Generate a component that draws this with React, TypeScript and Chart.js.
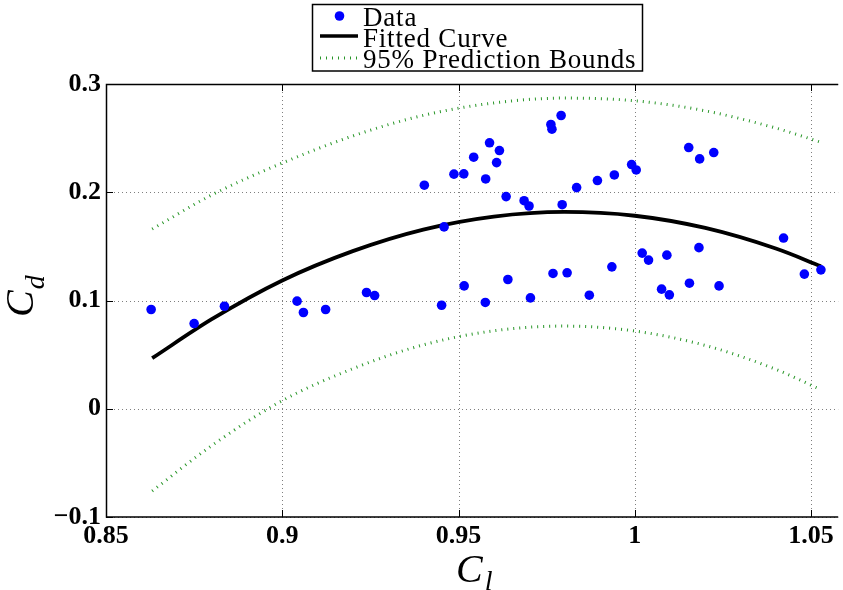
import React, { useEffect, useRef } from 'react';
import { Chart, registerables } from 'chart.js';

Chart.register(...registerables);

// ---------- data ----------
const dataX = [
  0.8628, 0.875, 0.8836, 0.9042, 0.906, 0.9123, 0.9239, 0.9262, 0.9403, 0.9452,
  0.9459, 0.9487, 0.9515, 0.9516, 0.9543, 0.9576, 0.9577, 0.9588, 0.9608, 0.9616,
  0.9635, 0.964, 0.9686, 0.97, 0.9704, 0.9762, 0.9765, 0.9768, 0.9791, 0.9794,
  0.9808, 0.9835, 0.9871, 0.9894, 0.9935, 0.9942, 0.9991, 1.0004, 1.0021, 1.0039,
  1.0076, 1.0091, 1.0098, 1.0153, 1.0155, 1.0182, 1.0184, 1.0224, 1.0239, 1.0422,
  1.0481, 1.0528,
];
const dataY = [
  0.0917, 0.0787, 0.0947, 0.0994, 0.0889, 0.0917, 0.1074, 0.1046, 0.2065, 0.0956,
  0.168, 0.2167, 0.217, 0.1135, 0.2324, 0.0982, 0.2123, 0.2457, 0.2274, 0.2385,
  0.196, 0.1194, 0.1922, 0.1873, 0.1024, 0.2626, 0.2583, 0.125, 0.2709, 0.1885,
  0.1256, 0.2043, 0.1049, 0.2108, 0.1311, 0.216, 0.2256, 0.2206, 0.1438, 0.1373,
  0.1105, 0.1419, 0.1052, 0.2413, 0.116, 0.1488, 0.2308, 0.2367, 0.1135, 0.1577,
  0.1244, 0.1283,
];
const curveX = [0.8631, 0.88, 0.9, 0.92, 0.94, 0.96, 0.98, 1.0, 1.02, 1.04, 1.0528];
const fitY = [0.0467, 0.0827, 0.1185, 0.1456, 0.1655, 0.1775, 0.1818, 0.1783, 0.167, 0.148, 0.1317];
const upperY = [0.166, 0.1975, 0.227, 0.252, 0.271, 0.2825, 0.287, 0.2845, 0.2752, 0.2593, 0.2462];
const lowerY = [-0.076, -0.034, 0.0075, 0.037, 0.059, 0.072, 0.0764, 0.0718, 0.0585, 0.0364, 0.0176];

const xTicks = [0.85, 0.9, 0.95, 1, 1.05];
const xTickLabels = ['0.85', '0.9', '0.95', '1', '1.05'];
const yTicks = [-0.1, 0, 0.1, 0.2, 0.3];
const yTickLabels = ['\u22120.1', '0', '0.1', '0.2', '0.3'];
const legendLabels = ['Data', 'Fitted Curve', '95% Prediction Bounds'];
const xTitle = ['C', 'l'];
const yTitle = ['C', 'd'];

const X_MIN = 0.85;
const X_MAX = 1.0577;
const Y_MIN = -0.1;
const Y_MAX = 0.3;

const BLUE = 'rgb(0,0,255)';
const GREEN = 'rgb(40,150,40)';
const SERIF = '"Liberation Serif", "Times New Roman", serif';

const pts = (xs: number[], ys: number[]) => xs.map((x, i) => ({ x, y: ys[i] }));

const labelFor = (ticks: number[], labels: string[]) => (value: number | string) => {
  const v = Number(value);
  const i = ticks.findIndex((t) => Math.abs(t - v) < 1e-9);
  return i >= 0 ? labels[i] : '';
};

const gridPlugin = {
  id: 'matlabGrid',
  beforeDatasetsDraw(chart: any) {
    const { ctx, chartArea: a, scales } = chart;
    const x = scales.x;
    const y = scales.y;
    ctx.save();
    ctx.strokeStyle = 'rgba(0,0,0,0.5)';
    ctx.lineWidth = 1;
    ctx.setLineDash([1, 3]);
    xTicks.forEach((v) => {
      const px = Math.round(x.getPixelForValue(v)) + 0.5;
      ctx.beginPath();
      ctx.moveTo(px, a.top);
      ctx.lineTo(px, a.bottom);
      ctx.stroke();
    });
    yTicks.forEach((v) => {
      const py = Math.round(y.getPixelForValue(v)) + 0.5;
      ctx.beginPath();
      ctx.moveTo(a.left, py);
      ctx.lineTo(a.right, py);
      ctx.stroke();
    });
    ctx.restore();
  },
  afterDatasetsDraw(chart: any) {
    const { ctx, chartArea: a, scales } = chart;
    const x = scales.x;
    const y = scales.y;
    ctx.save();
    ctx.setLineDash([]);
    ctx.strokeStyle = '#000';
    ctx.lineWidth = 1;
    const tl = 7;
    xTicks.forEach((v) => {
      const px = Math.round(x.getPixelForValue(v)) + 0.5;
      ctx.beginPath();
      ctx.moveTo(px, a.bottom);
      ctx.lineTo(px, a.bottom - tl);
      ctx.moveTo(px, a.top);
      ctx.lineTo(px, a.top + tl);
      ctx.stroke();
    });
    yTicks.forEach((v) => {
      const py = Math.round(y.getPixelForValue(v)) + 0.5;
      ctx.beginPath();
      ctx.moveTo(a.left, py);
      ctx.lineTo(a.left + tl, py);
      ctx.stroke();
    });
    ctx.lineWidth = 1.5;
    ctx.beginPath();
    ctx.moveTo(a.right, a.top + 0.5);
    ctx.lineTo(a.left + 0.5, a.top + 0.5);
    ctx.lineTo(a.left + 0.5, a.bottom);
    ctx.lineTo(a.right, a.bottom);
    ctx.stroke();
    ctx.restore();
  },
};

const annotationPlugin = {
  id: 'legendAndTitles',
  afterDraw(chart: any) {
    const { ctx } = chart;
    ctx.save();
    // ----- legend -----
    ctx.fillStyle = '#fff';
    ctx.fillRect(312, 4, 331, 67);
    ctx.strokeStyle = '#000';
    ctx.lineWidth = 1.5;
    ctx.setLineDash([]);
    ctx.strokeRect(312.5, 4.5, 330, 66.5);
    // marker
    ctx.fillStyle = BLUE;
    ctx.beginPath();
    ctx.arc(339.5, 16, 4.8, 0, Math.PI * 2);
    ctx.fill();
    // fitted line sample
    ctx.strokeStyle = '#000';
    ctx.lineWidth = 3.5;
    ctx.beginPath();
    ctx.moveTo(320, 36);
    ctx.lineTo(358, 36);
    ctx.stroke();
    // bounds sample
    ctx.strokeStyle = GREEN;
    ctx.lineWidth = 3;
    ctx.setLineDash([1, 5]);
    ctx.beginPath();
    ctx.moveTo(320, 58);
    ctx.lineTo(358, 58);
    ctx.stroke();
    ctx.setLineDash([]);
    ctx.fillStyle = '#000';
    ctx.font = `27px ${SERIF}`;
    (ctx as any).letterSpacing = '0.8px';
    ctx.textAlign = 'left';
    ctx.textBaseline = 'alphabetic';
    const baselines = [26, 46.5, 67.5];
    legendLabels.forEach((t, i) => ctx.fillText(t, 363, baselines[i]));
    (ctx as any).letterSpacing = '0px';

    // ----- x title -----
    const startX = 456;
    ctx.font = `italic 40px ${SERIF}`;
    ctx.fillText(xTitle[0], startX, 582);
    const wC = ctx.measureText(xTitle[0]).width;
    ctx.font = `italic 28px ${SERIF}`;
    ctx.fillText(xTitle[1], startX + wC + 2, 590);

    // ----- y title -----
    ctx.translate(33, 317);
    ctx.rotate(-Math.PI / 2);
    ctx.font = `italic 40px ${SERIF}`;
    ctx.fillText(yTitle[0], 0, 0);
    const wC2 = ctx.measureText(yTitle[0]).width;
    ctx.font = `italic 28px ${SERIF}`;
    ctx.fillText(yTitle[1], wC2 + 1, 11);
    ctx.restore();
  },
};

export default function App() {
  const ref = useRef<HTMLCanvasElement>(null);
  useEffect(() => {
    if (!ref.current) return;
    const tickFont = { family: SERIF, size: 26, weight: 'bold' as const };
    const chart = new Chart(ref.current, {
      type: 'scatter',
      data: {
        datasets: [
          {
            label: legendLabels[0],
            data: pts(dataX, dataY),
            backgroundColor: BLUE,
            borderColor: BLUE,
            pointRadius: 4.8,
            pointBorderWidth: 0,
            showLine: false,
          },
          {
            label: legendLabels[1],
            data: pts(curveX, fitY),
            borderColor: '#000',
            borderWidth: 3.8,
            pointRadius: 0,
            showLine: true,
            cubicInterpolationMode: 'monotone',
          },
          {
            label: legendLabels[2],
            data: pts(curveX, upperY),
            borderColor: GREEN,
            borderWidth: 3,
            borderDash: [1, 5],
            pointRadius: 0,
            showLine: true,
            cubicInterpolationMode: 'monotone',
          },
          {
            label: legendLabels[2] + ' (lower)',
            data: pts(curveX, lowerY),
            borderColor: GREEN,
            borderWidth: 3,
            borderDash: [1, 5],
            pointRadius: 0,
            showLine: true,
            cubicInterpolationMode: 'monotone',
          },
        ],
      },
      options: {
        animation: false,
        responsive: false,
        devicePixelRatio: 1,
        layout: { padding: { top: 84, left: 0, right: 0, bottom: 0 } },
        plugins: {
          legend: { display: false },
          tooltip: { enabled: false },
        },
        scales: {
          x: {
            type: 'linear',
            min: X_MIN,
            max: X_MAX,
            grid: { display: false, drawTicks: false },
            border: { display: false },
            afterBuildTicks: (scale: any) => {
              scale.ticks = xTicks.map((v) => ({ value: v }));
            },
            afterFit: (scale: any) => {
              scale.height = 73;
            },
            ticks: {
              font: tickFont,
              color: '#000',
              padding: 4,
              maxRotation: 0,
              autoSkip: false,
              callback: labelFor(xTicks, xTickLabels),
            },
          },
          y: {
            type: 'linear',
            min: Y_MIN,
            max: Y_MAX,
            grid: { display: false, drawTicks: false },
            border: { display: false },
            afterBuildTicks: (scale: any) => {
              scale.ticks = yTicks.map((v) => ({ value: v }));
            },
            afterFit: (scale: any) => {
              scale.width = 106;
            },
            ticks: {
              font: tickFont,
              color: '#000',
              padding: 5,
              autoSkip: false,
              callback: labelFor(yTicks, yTickLabels),
            },
          },
        },
      },
      plugins: [gridPlugin, annotationPlugin],
    } as any);
    return () => chart.destroy();
  }, []);
  return (
    <div style={{ position: 'absolute', left: 0, top: 0, width: 843, height: 590, background: '#fff' }}>
      <canvas ref={ref} width={843} height={590} style={{ display: 'block', width: 843, height: 590 }} />
    </div>
  );
}
